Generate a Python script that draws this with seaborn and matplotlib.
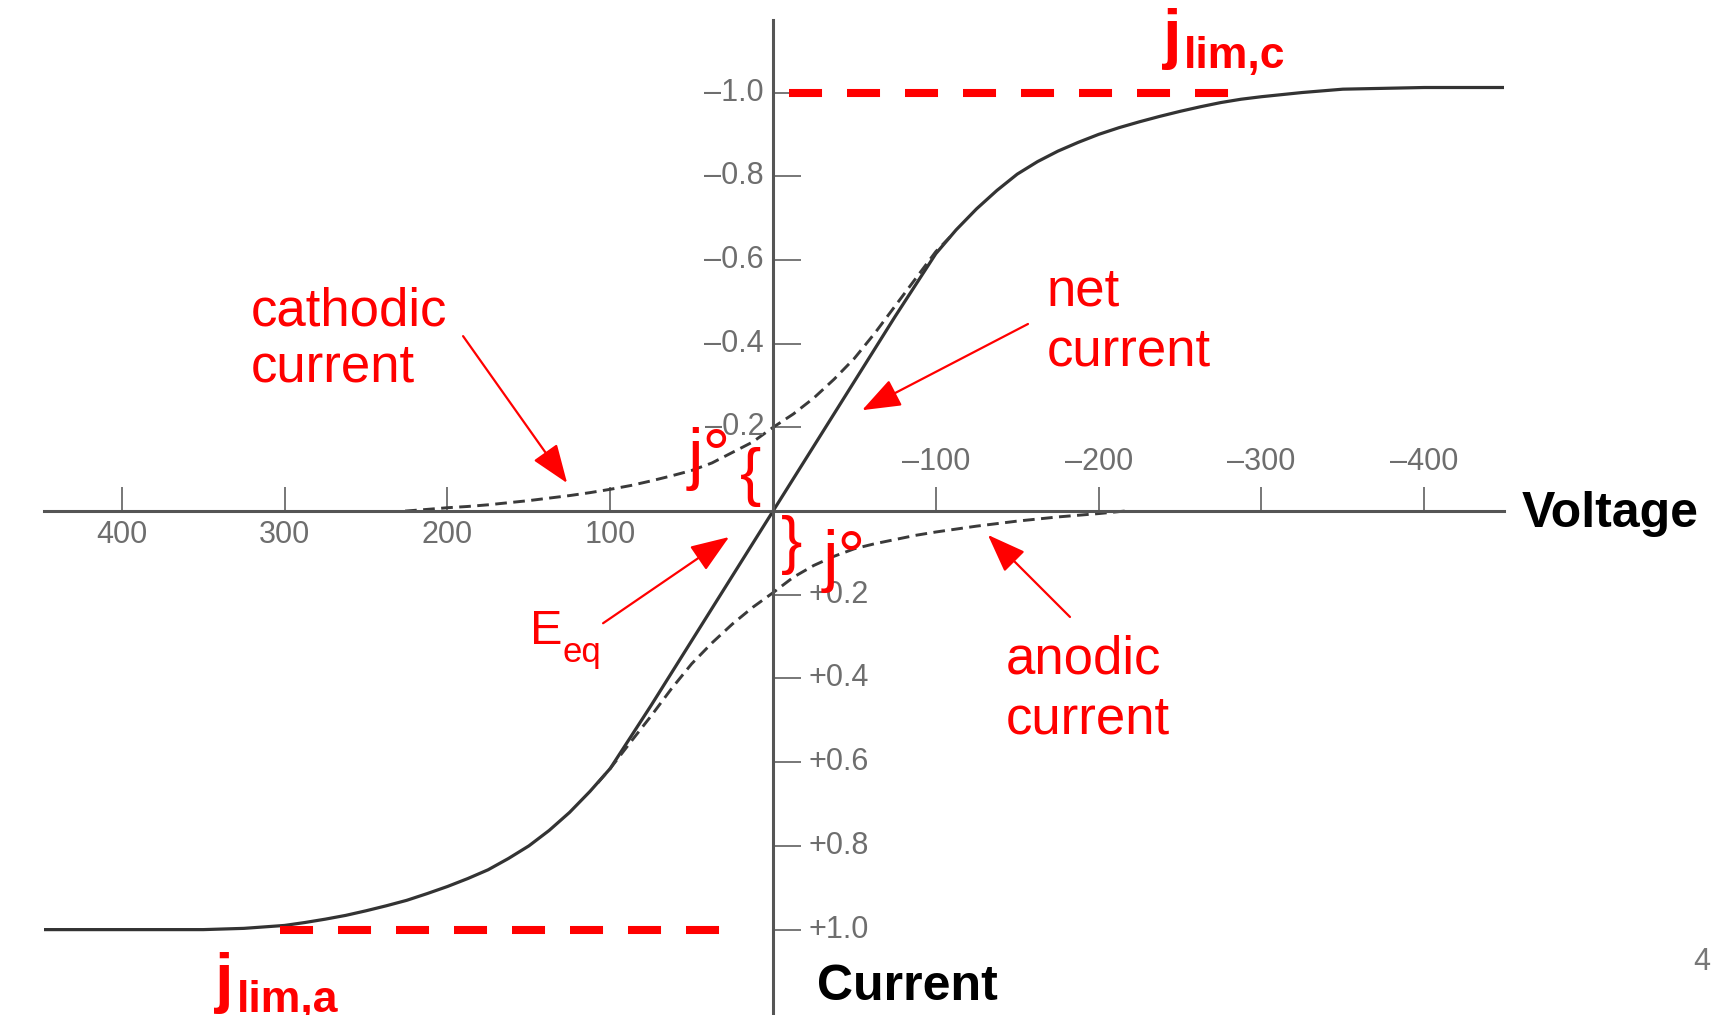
import matplotlib.pyplot as plt
import seaborn as sns

# overpotential (mV) vs current (fraction of j_lim); + = anodic, drawn downwards
volt_net = [448, 400, 350, 325, 300, 287.5, 275, 262.5, 250, 237.5, 225, 212.5, 200, 187.5, 175,
            162.5, 150, 137.5, 125, 112.5, 100, 87.5, 75, 50, 25, 0,
            -25, -50, -75, -87.5, -100, -112.5, -125, -137.5, -150, -162.5, -175, -187.5, -200,
            -212.5, -225, -237.5, -250, -262.5, -275, -287.5, -300, -325, -350, -400, -449]
curr_net = [1.0, 1.0, 1.0, 0.997, 0.99, 0.983, 0.975, 0.966, 0.955, 0.943, 0.93, 0.914, 0.897, 0.878, 0.857,
            0.83, 0.80, 0.763, 0.72, 0.67, 0.615, 0.54, 0.465, 0.31, 0.155, 0.0,
            -0.155, -0.31, -0.465, -0.54, -0.615, -0.672, -0.722, -0.766, -0.805, -0.835, -0.86, -0.881, -0.9,
            -0.916, -0.93, -0.943, -0.955, -0.966, -0.976, -0.984, -0.99, -1.0, -1.008, -1.012, -1.012]

volt_cat = [226, 212.5, 200, 187.5, 175, 162.5, 150, 137.5, 125, 112.5, 100, 87.5, 75, 62.5, 50,
            37.5, 25, 12.5, 0, -12.5, -25, -37.5, -50, -62.5, -75, -87.5, -100, -110]
curr_cat = [0.0, -0.004, -0.008, -0.011, -0.015, -0.02, -0.025, -0.031, -0.037, -0.044, -0.052,
            -0.061, -0.072, -0.084, -0.097, -0.115, -0.14, -0.165, -0.2, -0.232, -0.27, -0.315,
            -0.365, -0.425, -0.49, -0.555, -0.62, -0.66]

volt_an = [-216, -200, -187.5, -175, -162.5, -150, -137.5, -125, -112.5, -100, -87.5, -75, -62.5, -50,
           -37.5, -25, -12.5, 0, 12.5, 25, 37.5, 50, 62.5, 75, 87.5, 100, 110]
curr_an = [0.0, 0.006, 0.01, 0.014, 0.019, 0.024, 0.03, 0.036, 0.043, 0.05, 0.058, 0.068, 0.078, 0.09,
           0.108, 0.13, 0.158, 0.195, 0.23, 0.27, 0.315, 0.365, 0.425, 0.49, 0.552, 0.615, 0.66]

# spans of the red limiting-current markers
jlim_c_span = [-10, -283]
jlim_a_span = [303, 31]

volt_ticks = [400, 300, 200, 100, -100, -200, -300, -400]
curr_ticks = [-1.0, -0.8, -0.6, -0.4, -0.2, 0.2, 0.4, 0.6, 0.8, 1.0]

W, H = 1713, 1015


def fx(x):
    return x / W


def fy(y):
    return 1 - y / H


sns.set_theme(style='white')
plt.rcParams['font.family'] = ['Liberation Sans', 'DejaVu Sans']

fig = plt.figure(figsize=(W / 100, H / 100), dpi=100)
fig.patch.set_facecolor('white')
ax = fig.add_axes([fx(43.7), 0, (1504 - 43.7) / W, 1 - 19.7 / H])
ax.set_facecolor('none')
ax.set_xlim(448, -449)
ax.set_ylim(1.204, -1.174)

# axes crossing at the origin
ax.spines['top'].set_visible(False)
ax.spines['right'].set_visible(False)
ax.spines['left'].set_position(('data', 0))
ax.spines['bottom'].set_position(('data', 0))
for s in ['left', 'bottom']:
    ax.spines[s].set_color('#555555')
    ax.spines[s].set_linewidth(2.2)

ax.set_xticks(volt_ticks)
ax.set_yticks(curr_ticks)
ax.tick_params(axis='x', direction='in', length=17, width=1.4, color='#777777',
               bottom=True, labelbottom=False)
ax.tick_params(axis='y', direction='in', length=20, width=1.4, color='#777777',
               left=True, labelleft=False)
ax.set_xlabel('')
ax.set_ylabel('')

tick_kw = dict(color='#6e6e6e', fontsize=22)
for v in volt_ticks:
    if v > 0:
        ax.text(v, 0.058, f'{v}', ha='center', va='center', **tick_kw)
    else:
        ax.text(v, -0.117, f'\u2013{-v}', ha='center', va='center', **tick_kw)
for c in curr_ticks:
    if c < 0:
        ax.text(5.5, c, f'\u2013{-c:.1f}', ha='right', va='center', **tick_kw)
    else:
        ax.text(-21.5, c, f'+{c:.1f}', ha='left', va='center', **tick_kw)

# curves
sns.lineplot(x=volt_net, y=curr_net, ax=ax, color='#333333', lw=2.3, sort=False)
sns.lineplot(x=volt_cat, y=curr_cat, ax=ax, color='#3a3a3a', lw=2.1, sort=False)
ax.lines[-1].set_dashes((4, 2.2))
sns.lineplot(x=volt_an, y=curr_an, ax=ax, color='#3a3a3a', lw=2.1, sort=False)
ax.lines[-1].set_dashes((4, 2.2))

# limiting current markers
sns.lineplot(x=jlim_c_span, y=[-1.0, -1.0], ax=ax, color='#ff0000', lw=5.8, sort=False)
ax.lines[-1].set_dashes((4.1, 3.1))
sns.lineplot(x=jlim_a_span, y=[1.0, 1.0], ax=ax, color='#ff0000', lw=5.8, sort=False)
ax.lines[-1].set_dashes((4.1, 3.1))

# red arrows
arrow_kw = dict(arrowstyle='-|>,head_length=1.6,head_width=0.6', color='#ff0000',
                lw=1.6, mutation_scale=15, shrinkA=0, shrinkB=0)
ax.annotate('', xy=(126.5, -0.067), xytext=(190.4, -0.418), arrowprops=arrow_kw)
ax.annotate('', xy=(-54.7, -0.241), xytext=(-156.6, -0.447), arrowprops=arrow_kw)
ax.annotate('', xy=(-132, 0.057), xytext=(-182.4, 0.253), arrowprops=arrow_kw)
ax.annotate('', xy=(27, 0.062), xytext=(104.4, 0.268), arrowprops=arrow_kw)

red = '#ff0000'
lab = dict(color=red, fontsize=38, ha='left', va='baseline')
fig.text(fx(251), fy(326), 'cathodic', **lab)
fig.text(fx(251), fy(382), 'current', **lab)
fig.text(fx(1047), fy(305), 'net', **lab)
fig.text(fx(1047), fy(366), 'current', **lab)
fig.text(fx(1006), fy(673), 'anodic', **lab)
fig.text(fx(1006), fy(733), 'current', **lab)

fig.text(fx(530), fy(644), 'E', color=red, fontsize=35, ha='left', va='baseline')
fig.text(fx(562), fy(662), 'eq', color=red, fontsize=25, ha='left', va='baseline')

fig.text(fx(688), fy(477), 'j\u00b0', color=red, fontsize=50, ha='left', va='baseline')
fig.text(fx(751), fy(477), '{', color=red, fontsize=46, ha='center', va='center')
fig.text(fx(792), fy(545), '}', color=red, fontsize=46, ha='center', va='center')
fig.text(fx(823), fy(579), 'j\u00b0', color=red, fontsize=50, ha='left', va='baseline')

fig.text(fx(1163), fy(56), 'j', color=red, fontsize=48, fontweight='bold', ha='left', va='baseline')
fig.text(fx(1184), fy(68), 'lim,c', color=red, fontsize=32, fontweight='bold', ha='left', va='baseline')
fig.text(fx(215), fy(1000), 'j', color=red, fontsize=48, fontweight='bold', ha='left', va='baseline')
fig.text(fx(237), fy(1012), 'lim,a', color=red, fontsize=32, fontweight='bold', ha='left', va='baseline')

fig.text(fx(1522), fy(527), 'Voltage', color='black', fontsize=36, fontweight='bold',
         ha='left', va='baseline')
fig.text(fx(817), fy(1000), 'Current', color='black', fontsize=36, fontweight='bold',
         ha='left', va='baseline')
fig.text(fx(1693), fy(970), '4', color='#777777', fontsize=22, ha='left', va='baseline')

fig.savefig('out.png', dpi=100)
